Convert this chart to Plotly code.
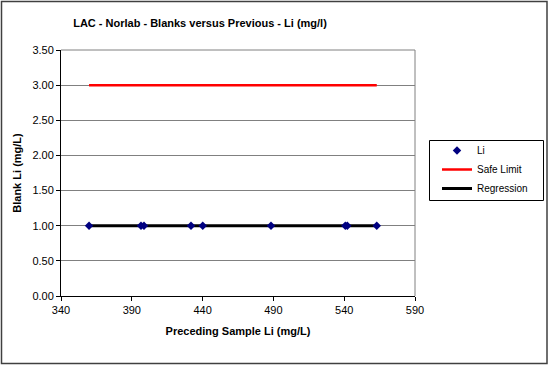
import plotly.graph_objects as go

preceding_li = [359.8, 396.5, 398.6, 431.8, 440.1, 488.3, 540.8, 542.2, 563.0]
blank_li = [1.00, 1.00, 1.00, 1.00, 1.00, 1.00, 1.00, 1.00, 1.00]
safe_x = [359.8, 563.0]
safe_y = [3.00, 3.00]
reg_x = [359.8, 563.0]
reg_y = [1.00, 1.00]
y_ticks = [0, 0.5, 1.0, 1.5, 2.0, 2.5, 3.0, 3.5]
x_ticks = [340, 390, 440, 490, 540, 590]

W, H = 549, 366
L, R, T, B = 61, 134, 50, 70
pw, ph = W - L - R, H - T - B

fig = go.Figure()
fig.add_trace(go.Scatter(x=safe_x, y=safe_y, mode="lines", name="Safe Limit",
                         legendrank=2, line=dict(color="#FF0000", width=2.5)))
fig.add_trace(go.Scatter(x=reg_x, y=reg_y, mode="lines", name="Regression",
                         legendrank=3, line=dict(color="#000000", width=3)))
fig.add_trace(go.Scatter(x=preceding_li, y=blank_li, mode="markers", name="Li",
                         legendrank=1,
                         marker=dict(symbol="diamond", size=6.5, color="#000080")))

fig.update_layout(
    width=W, height=H,
    margin=dict(l=L, r=R, t=T, b=B),
    paper_bgcolor="white", plot_bgcolor="white",
    font=dict(family="Arial, Liberation Sans, sans-serif", size=11, color="#000000"),
    title=dict(text="<b>LAC - Norlab - Blanks versus Previous - Li (mg/l)</b>",
               x=200 / W, xanchor="center", y=1 - 23 / H, yanchor="middle",
               font=dict(size=11)),
    showlegend=True,
    legend=dict(x=(437 - L) / pw, y=(296 - 136) / ph, xanchor="left", yanchor="top",
                borderwidth=0, bgcolor="rgba(0,0,0,0)",
                font=dict(size=10), itemwidth=30, tracegroupgap=0),
    xaxis=dict(range=[340, 590], tickvals=x_ticks, showgrid=False,
               showline=True, linecolor="#000000", linewidth=1,
               ticks="outside", ticklen=4, tickcolor="#000000",
               title=dict(text="<b>Preceding Sample Li (mg/L)</b>", font=dict(size=11), standoff=12),
               zeroline=False),
    yaxis=dict(range=[0, 3.5], tickvals=y_ticks, tickformat=".2f",
               showgrid=True, gridcolor="#808080", gridwidth=1,
               showline=True, linecolor="#000000", linewidth=1,
               ticks="outside", ticklen=4, tickcolor="#000000",
               title=dict(text="<b>Blank Li (mg/L)</b>", font=dict(size=11), standoff=8),
               zeroline=False),
)

# plot-area top and right border (gray)
fig.add_shape(type="line", xref="paper", yref="paper", x0=0, x1=1, y0=1, y1=1,
              line=dict(color="#808080", width=1))
fig.add_shape(type="line", xref="paper", yref="paper", x0=1, x1=1, y0=0, y1=1,
              line=dict(color="#808080", width=1))
# legend frame
fig.add_shape(type="rect", xref="paper", yref="paper",
              x0=(429.5 - L) / pw, x1=(543.5 - L) / pw,
              y0=(296 - 200.5) / ph, y1=(296 - 140.5) / ph,
              line=dict(color="#000000", width=1), fillcolor="white", layer="below")
# outer chart border
fig.add_shape(type="rect", xref="paper", yref="paper",
              x0=(1.5 - L) / pw, x1=(W - 2 - L) / pw,
              y0=-(B - 2.5) / ph, y1=1 + (T - 1.5) / ph,
              line=dict(color="#404040", width=1.5), layer="below")

fig.write_html("out.html")
